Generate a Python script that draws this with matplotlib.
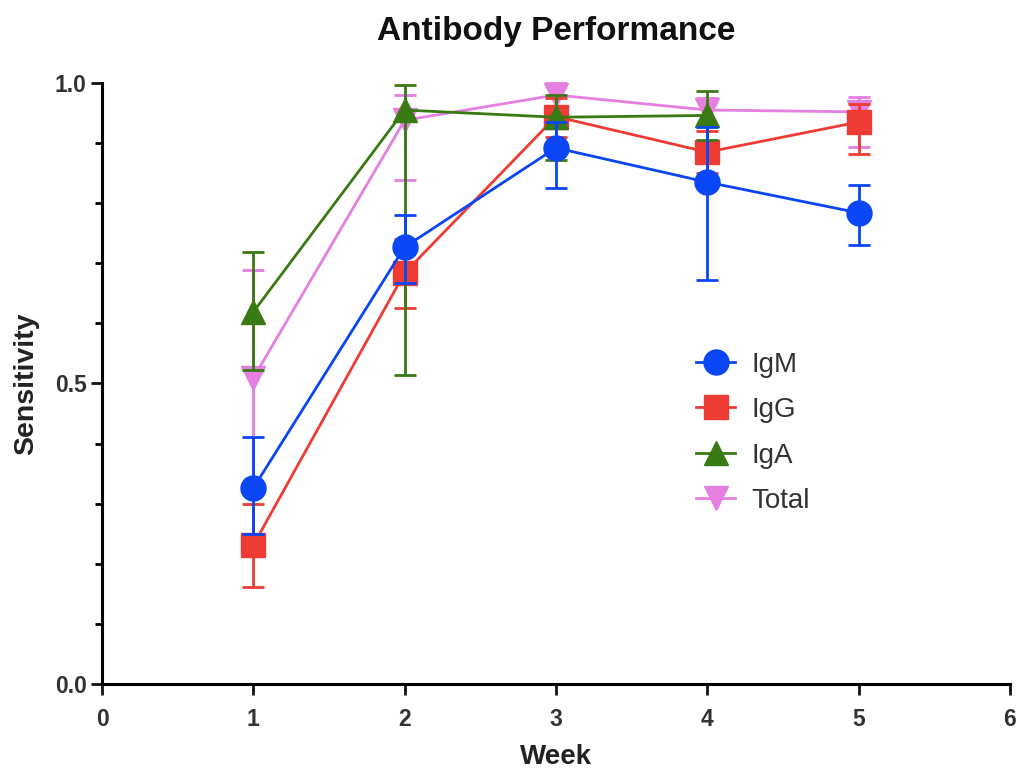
import matplotlib
matplotlib.use("Agg")
import matplotlib.pyplot as plt
from matplotlib.ticker import MultipleLocator
from matplotlib.lines import Line2D
import numpy as np

plt.rcParams['font.family'] = ['Liberation Sans', 'DejaVu Sans']

weeks = [1, 2, 3, 4, 5]
weeks_iga = [1, 2, 3, 4]

igm = [0.326, 0.727, 0.892, 0.835, 0.784]
igm_lo = [0.250, 0.667, 0.825, 0.672, 0.730]
igm_hi = [0.411, 0.780, 0.935, 0.927, 0.830]

igg = [0.231, 0.684, 0.944, 0.885, 0.935]
igg_lo = [0.161, 0.626, 0.910, 0.850, 0.882]
igg_hi = [0.300, 0.740, 0.975, 0.920, 0.965]

iga = [0.619, 0.955, 0.943, 0.946]
iga_lo = [0.522, 0.514, 0.872, 0.905]
iga_hi = [0.719, 0.997, 0.980, 0.987]

total = [0.509, 0.938, 0.980, 0.955, 0.952]
total_lo = [0.330, 0.839, 0.960, 0.930, 0.894]
total_hi = [0.689, 0.980, 1.000, 0.975, 0.977]

series = [
    ("Total", weeks, total, total_lo, total_hi, "#E57FE0", "v", 17, 1),
    ("IgG", weeks, igg, igg_lo, igg_hi, "#EE3B33", "s", 17, 2),
    ("IgA", weeks_iga, iga, iga_lo, iga_hi, "#3A7A14", "^", 17, 3),
    ("IgM", weeks, igm, igm_lo, igm_hi, "#0A46F5", "o", 18, 4),
]

fig = plt.figure(figsize=(10.17, 7.72), dpi=100)
ax = fig.add_axes([0.1003, 0.114, 0.8927, 0.7785])

handles = {}
for name, x, v, lo, hi, col, mk, ms, z in series:
    v = np.array(v); lo = np.array(lo); hi = np.array(hi)
    ax.errorbar(x, v, yerr=[v - lo, hi - v], color=col, marker=mk,
                markersize=ms, linewidth=2.0, elinewidth=2.0,
                capsize=8, capthick=2.0, zorder=z, clip_on=False)
    handles[name] = Line2D([], [], color=col, marker=mk, markersize=ms,
                           linewidth=2.0)

ax.set_xlim(0, 6)
ax.set_ylim(0, 1.0)
ax.set_xticks(range(0, 7))
ax.set_yticks([0.0, 0.5, 1.0])
ax.set_yticklabels(["0.0", "0.5", "1.0"])
ax.yaxis.set_minor_locator(MultipleLocator(0.1))

for s in ["top", "right"]:
    ax.spines[s].set_visible(False)
for s in ["left", "bottom"]:
    ax.spines[s].set_linewidth(2.2)
ax.tick_params(axis="both", which="major", length=8, width=2.0, labelsize=16.5,
               colors="#111111", labelcolor="#333333")
ax.tick_params(axis="y", which="minor", length=5, width=2.0)
ax.tick_params(axis="x", pad=9)
ax.tick_params(axis="y", pad=3)
for lab in ax.get_xticklabels() + ax.get_yticklabels():
    lab.set_fontweight("bold")

ax.set_title("Antibody Performance", fontsize=24, fontweight="bold", pad=31,
             color="#111111")
ax.set_xlabel("Week", fontsize=20, fontweight="bold", labelpad=10, color="#222222")
ax.set_ylabel("Sensitivity", fontsize=20.5, fontweight="bold", labelpad=11, color="#222222")

order = ["IgM", "IgG", "IgA", "Total"]
leg = ax.legend([handles[n] for n in order], order, loc="upper left",
                bbox_to_anchor=(0.63, 0.59), frameon=False, fontsize=20,
                labelspacing=0.7, handlelength=1.4, handletextpad=0.6,
                borderpad=0.3)
for t in leg.get_texts():
    t.set_color("#333333")

fig.savefig("out.png", dpi=100)
